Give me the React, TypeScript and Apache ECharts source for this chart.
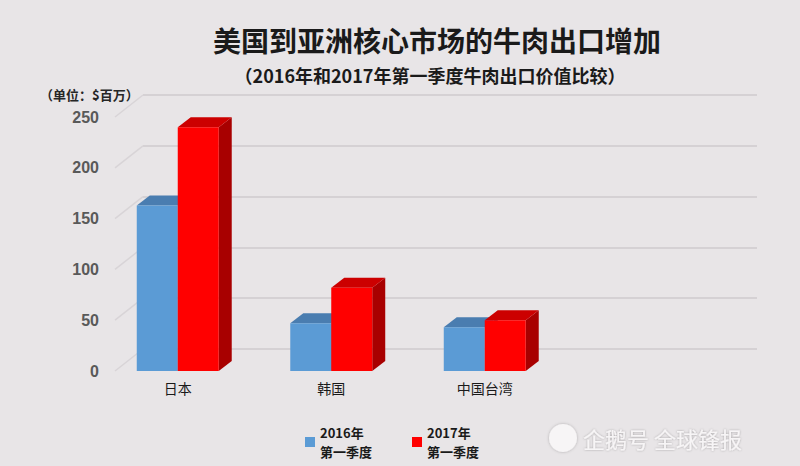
import React, { useEffect, useRef } from "react";
import * as echarts from "echarts";

const categories = ["日本", "韩国", "中国台湾"];
const seriesNames = ["2016年第一季度", "2017年第一季度"];
const values2016 = [163, 47, 43];
const values2017 = [240, 82, 50];
const yTicks = [0, 50, 100, 150, 200, 250];

const titleText = "美国到亚洲核心市场的牛肉出口增加";
const subTitleText = "（2016年和2017年第一季度牛肉出口价值比较）";
const unitText = "（单位：$百万）";
const watermarkText = "企鹅号 全球锋报";

const FONT = '"Noto Sans CJK SC", "Noto Sans", sans-serif';

const palettes = [
  { front: "#5b9bd5", top: "#4a7db0", side: "#3f6d9c" },
  { front: "#ff0000", top: "#cc0000", side: "#a80000" },
];

const DX = 13;
const DY = -10;

function makeBarRenderer(sideIdx: number) {
  const pal = palettes[sideIdx];
  return (params: any, api: any) => {
    const cat = api.value(0);
    const val = api.value(1);
    const base = api.coord([cat, 0]);
    const top = api.coord([cat, val]);
    const band = api.size([1, 0])[0];
    const w = band * 0.267;
    const x0 = sideIdx === 0 ? base[0] - w : base[0];
    const x1 = x0 + w;
    return {
      type: "group",
      children: [
        {
          type: "polygon",
          shape: {
            points: [
              [x1, base[1]],
              [x1 + DX, base[1] + DY],
              [x1 + DX, top[1] + DY],
              [x1, top[1]],
            ],
          },
          style: { fill: pal.side },
        },
        {
          type: "polygon",
          shape: {
            points: [
              [x0, top[1]],
              [x0 + DX, top[1] + DY],
              [x1 + DX, top[1] + DY],
              [x1, top[1]],
            ],
          },
          style: { fill: pal.top },
        },
        {
          type: "rect",
          shape: { x: x0, y: top[1], width: w, height: base[1] - top[1] },
          style: { fill: pal.front },
        },
      ],
    };
  };
}

export default function App() {
  const ref = useRef<HTMLDivElement>(null);
  useEffect(() => {
    if (!ref.current) return;
    const chart = echarts.init(ref.current, null, { renderer: "svg" });
    const option: any = {
      animation: false,
      backgroundColor: "#e8e5e7",
      textStyle: { fontFamily: FONT },
      grid: [
        { left: 101, right: 238.5, top: 117, bottom: 95 },
        { left: 143, right: 43, top: 95, bottom: 117 },
      ],
      xAxis: [
        {
          type: "category",
          gridIndex: 0,
          data: categories,
          axisLine: { show: false },
          axisTick: { show: false },
          axisLabel: {
            margin: 10,
            color: "#1a1a1a",
            fontSize: 14,
            fontFamily: FONT,
          },
        },
        { type: "value", gridIndex: 1, show: false, min: 0, max: 1 },
      ],
      yAxis: [
        {
          type: "value",
          gridIndex: 0,
          min: 0,
          max: 250,
          interval: 50,
          axisLine: { show: false },
          axisTick: { show: false },
          splitLine: { show: false },
          axisLabel: {
            margin: 2,
            color: "#595959",
            fontSize: 16,
            fontWeight: "bold",
            fontFamily: '"Liberation Sans", Arial, sans-serif',
          },
        },
        {
          type: "value",
          gridIndex: 1,
          min: 0,
          max: 250,
          interval: 50,
          axisLine: { show: false },
          axisTick: { show: false },
          axisLabel: { show: false },
          splitLine: { lineStyle: { color: "#d5d1d4", width: 2 } },
        },
      ],
      legend: {
        left: 300,
        top: 418,
        itemWidth: 10,
        itemHeight: 10,
        itemGap: 40,
        icon: "rect",
        data: seriesNames,
        formatter: (name: string) => name.replace("年", "年\n"),
        textStyle: {
          fontSize: 13,
          lineHeight: 19,
          color: "#1a1a1a",
          fontWeight: "bold",
          fontFamily: FONT,
        },
      },
      graphic: [
        {
          type: "text",
          x: 437,
          y: 40,
          style: {
            text: titleText,
            align: "center",
            verticalAlign: "middle",
            font: `bold 28px ${FONT}`,
            fill: "#1a1a1a",
          },
        },
        {
          type: "text",
          x: 430,
          y: 75,
          style: {
            text: subTitleText,
            align: "center",
            verticalAlign: "middle",
            font: `bold 18px ${FONT}`,
            fill: "#1a1a1a",
          },
        },
        {
          type: "text",
          x: 40,
          y: 94,
          style: {
            text: unitText,
            align: "left",
            verticalAlign: "middle",
            font: `bold 13px ${FONT}`,
            fill: "#262626",
          },
        },
        {
          type: "circle",
          shape: { cx: 563, cy: 438, r: 14 },
          style: { fill: "#f7f5f6", shadowBlur: 3, shadowColor: "rgba(0,0,0,0.25)" },
        },
        {
          type: "text",
          x: 583,
          y: 438,
          style: {
            text: watermarkText,
            align: "left",
            verticalAlign: "middle",
            font: `22px ${FONT}`,
            fill: "#f7f5f6",
            textShadowColor: "rgba(0,0,0,0.3)",
            textShadowBlur: 2,
          },
        },
      ],
      series: [
        {
          type: "custom",
          name: "gridDiagonals",
          xAxisIndex: 0,
          yAxisIndex: 0,
          silent: true,
          data: yTicks.map((v) => [0, v]),
          encode: { x: 0, y: 1 },
          renderItem: (params: any, api: any) => {
            const y = api.coord([0, api.value(1)])[1];
            const x = params.coordSys.x + 14;
            return {
              type: "line",
              shape: { x1: x, y1: y, x2: x + 28, y2: y - 22 },
              style: { stroke: "#d8d4d7", lineWidth: 1.5 },
            };
          },
          z: 1,
        },
        {
          type: "custom",
          name: seriesNames[0],
          xAxisIndex: 0,
          yAxisIndex: 0,
          itemStyle: { color: palettes[0].front },
          data: values2016.map((v, i) => [i, v]),
          encode: { x: 0, y: 1 },
          renderItem: makeBarRenderer(0),
          z: 2,
        },
        {
          type: "custom",
          name: seriesNames[1],
          xAxisIndex: 0,
          yAxisIndex: 0,
          itemStyle: { color: palettes[1].front },
          data: values2017.map((v, i) => [i, v]),
          encode: { x: 0, y: 1 },
          renderItem: makeBarRenderer(1),
          z: 3,
        },
      ],
    };
    chart.setOption(option);
    return () => chart.dispose();
  }, []);
  return <div ref={ref} style={{ width: 800, height: 466, position: "absolute", left: 0, top: 0 }} />;
}
